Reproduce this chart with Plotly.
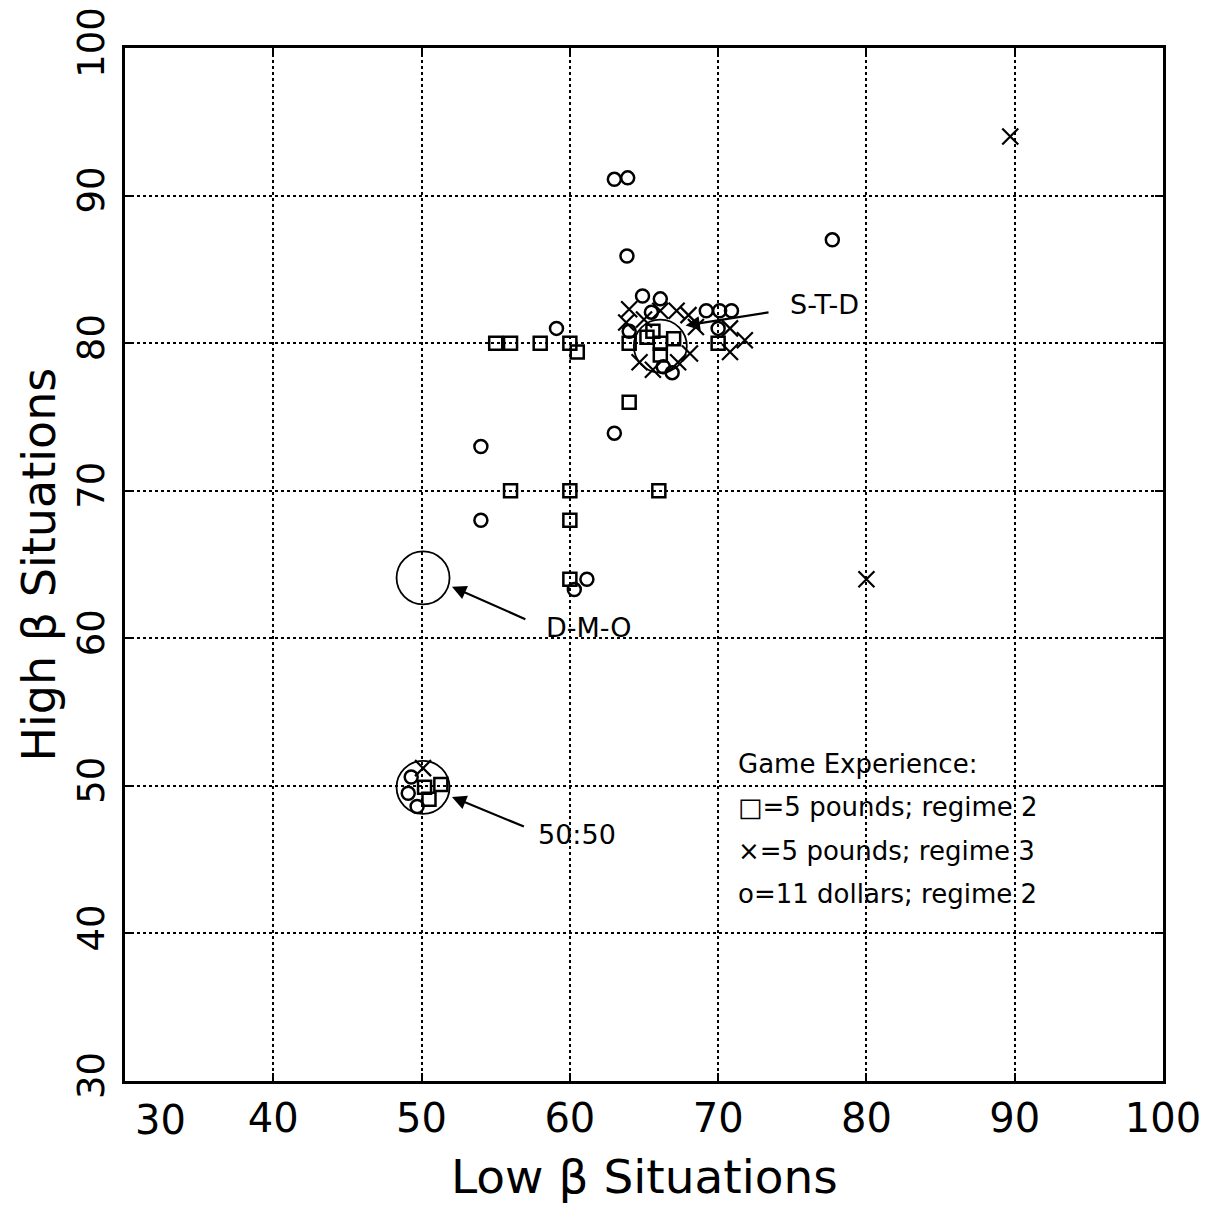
import plotly.graph_objects as go

# ---------------- data ----------------
sq_x = [55, 56, 58, 60, 60.5, 64, 56, 60, 66, 60, 60, 64, 70,
        65.6, 66.1, 67.0, 66.1, 65.2,
        50.2, 51.3, 50.5]
sq_y = [80, 80, 80, 80, 79.4, 76, 70, 70, 70, 68, 64, 80, 80,
        80.8, 80.0, 80.3, 79.2, 80.4,
        49.9, 50.1, 49.1]

cr_x = [89.7, 80.0, 50.1,
        64.0, 65.0, 66.1, 67.2, 68.0, 68.5, 70.8, 71.8, 70.8,
        64.7, 65.6, 67.3, 68.1, 63.8]
cr_y = [94.0, 64.0, 51.2,
        82.3, 81.6, 82.2, 82.2, 81.9, 81.1, 81.0, 80.2, 79.4,
        78.7, 78.2, 78.7, 79.3, 81.4]

ci_x = [63.0, 63.9, 63.85, 77.7, 59.1, 54.0, 63.0, 54.0, 61.15, 60.3,
        64.9, 66.1, 69.2, 70.1, 70.9, 70.0,
        64.0, 66.9, 66.3, 65.5,
        49.3, 49.1, 49.7]
ci_y = [91.1, 91.2, 85.9, 87.0, 81.0, 73.0, 73.9, 68.0, 64.0, 63.3,
        83.2, 83.0, 82.2, 82.2, 82.2, 81.0,
        80.8, 78.0, 78.4, 82.1,
        50.6, 49.5, 48.6]

# reference solutions (large circles)
ref_names = ["D-M-O", "S-T-D", "50:50"]
ref_x = [50.1, 66.1, 50.1]
ref_y = [64.1, 79.8, 49.9]

# arrow (head x, head y, tail x, tail y) and label positions
arrow_head_x = [52.05, 67.8, 52.05]
arrow_head_y = [63.5, 81.2, 49.25]
arrow_tail_x = [57.1, 73.5, 57.0]
arrow_tail_y = [61.25, 82.1, 47.2]
label_x = [61.3, 77.2, 60.5]
label_y = [60.7, 82.6, 46.7]

x_ticks = [30, 40, 50, 60, 70, 80, 90, 100]
x_tick_text = ["", "40", "50", "60", "70", "80", "90", "100"]
y_ticks = [30, 40, 50, 60, 70, 80, 90, 100]

legend_title = "Game Experience:"
legend_lines = ["\u25a1=5 pounds; regime 2", "\u00d7=5 pounds; regime 3", "o=11 dollars; regime 2"]

FONT = "DejaVu Sans"
fig = go.Figure()

fig.add_trace(go.Scatter(x=sq_x, y=sq_y, mode="markers",
                         marker=dict(symbol="square-open", size=13, color="black",
                                     line=dict(width=2.5, color="black"))))
fig.add_trace(go.Scatter(x=cr_x, y=cr_y, mode="markers",
                         marker=dict(symbol="x-thin-open", size=16, color="black",
                                     line=dict(width=2.2, color="black"))))
fig.add_trace(go.Scatter(x=ci_x, y=ci_y, mode="markers",
                         marker=dict(symbol="circle-open", size=13, color="black",
                                     line=dict(width=2.5, color="black"))))
fig.add_trace(go.Scatter(x=ref_x, y=ref_y, mode="markers",
                         marker=dict(symbol="circle-open", size=53, color="black",
                                     line=dict(width=1.8, color="black"))))

anns = []
for hx, hy, tx, ty in zip(arrow_head_x, arrow_head_y, arrow_tail_x, arrow_tail_y):
    anns.append(dict(x=hx, y=hy, ax=tx, ay=ty, xref="x", yref="y", axref="x", ayref="y",
                     text="", showarrow=True, arrowhead=2, arrowsize=1.3, arrowwidth=2.2,
                     arrowcolor="black"))
for name, lx, ly in zip(ref_names, label_x, label_y):
    anns.append(dict(x=lx, y=ly, xref="x", yref="y", text=name, showarrow=False,
                     font=dict(family=FONT, size=27, color="black")))

# legend text block
leg_x = 71.2
leg_y0 = 51.5
leg_dy = 2.95
anns.append(dict(x=leg_x, y=leg_y0, xref="x", yref="y", text=legend_title, showarrow=False,
                 xanchor="left", font=dict(family=FONT, size=26, color="black")))
for i, t in enumerate(legend_lines):
    anns.append(dict(x=leg_x, y=leg_y0 - leg_dy * (i + 1), xref="x", yref="y", text=t,
                     showarrow=False, xanchor="left",
                     font=dict(family=FONT, size=26, color="black")))

# shifted "30" x-tick label as in the reference
anns.append(dict(x=32.4, y=0, xref="x", yref="paper", yanchor="top", yshift=-14,
                 text="30", showarrow=False, font=dict(family=FONT, size=40, color="black")))

# axis titles
anns.append(dict(x=0.5, y=0, xref="paper", yref="paper", yanchor="top", yshift=-66,
                 text="Low \u03b2 Situations", showarrow=False,
                 font=dict(family=FONT, size=47, color="black")))
anns.append(dict(x=0, y=0.5, xref="paper", yref="paper", xanchor="right", xshift=-58,
                 text="High \u03b2 Situations", textangle=-90, showarrow=False,
                 font=dict(family=FONT, size=46, color="black")))

fig.update_layout(
    width=1203, height=1206,
    margin=dict(l=117, r=48, t=40, b=133),
    paper_bgcolor="white", plot_bgcolor="white",
    showlegend=False,
    annotations=anns,
    font=dict(family=FONT, color="black"),
)
fig.update_xaxes(range=[30, 100], tickvals=x_ticks, ticktext=x_tick_text,
                 automargin=False, ticklabeloverflow="allow",
                 showgrid=True, gridcolor="black", griddash="dot", gridwidth=1.5,
                 showline=True, linecolor="black", linewidth=3, mirror="ticks",
                 ticks="inside", ticklen=8, tickwidth=2, tickcolor="black",
                 tickfont=dict(family=FONT, size=40, color="black"), zeroline=False)
fig.update_yaxes(range=[30, 100], tickvals=y_ticks,
                 automargin=False, ticklabelstandoff=3, ticklabeloverflow="allow",
                 showgrid=True, gridcolor="black", griddash="dot", gridwidth=1.5,
                 showline=True, linecolor="black", linewidth=3, mirror="ticks",
                 ticks="inside", ticklen=8, tickwidth=2, tickcolor="black",
                 tickangle=-90,
                 tickfont=dict(family=FONT, size=37, color="black"), zeroline=False)

fig.write_html("out.html")
